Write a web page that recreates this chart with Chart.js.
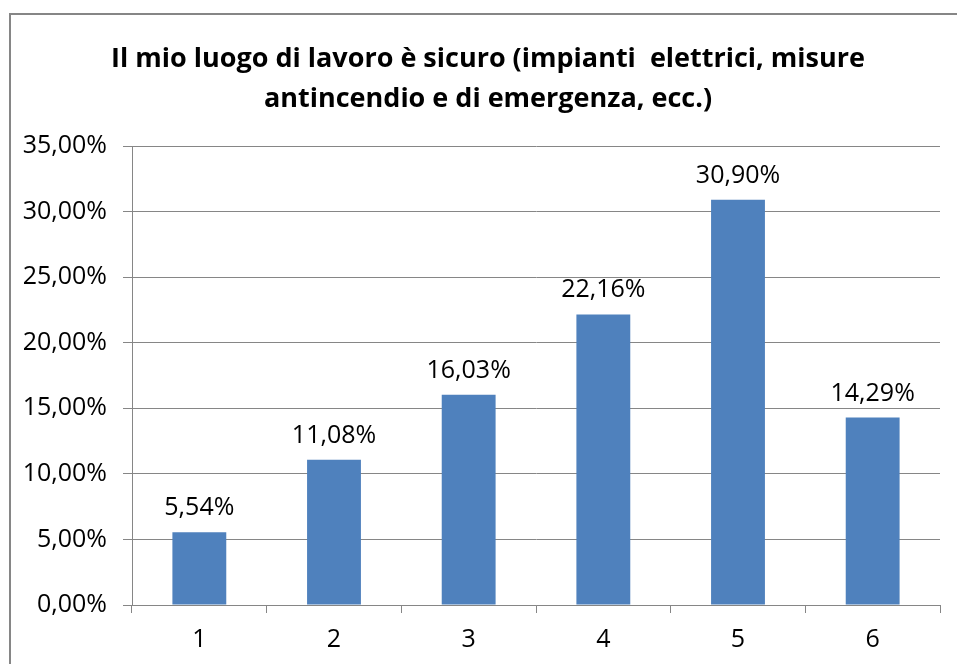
<!DOCTYPE html>
<html>
<head>
<meta charset="utf-8">
<script src="https://cdn.jsdelivr.net/npm/chart.js@4/dist/chart.umd.min.js"></script>
<style>
  html, body { margin: 0; padding: 0; background: #fff; }
  #wrap { width: 957px; height: 664px; position: relative; }
</style>
</head>
<body>
<div id="wrap"><canvas id="chart" width="957" height="664"></canvas></div>
<script>
const categories = ["1", "2", "3", "4", "5", "6"];
const percentValues = [5.54, 11.08, 16.03, 22.16, 30.90, 14.29];
const titleLines = ["Il mio luogo di lavoro è sicuro (impianti  elettrici, misure", "antincendio e di emergenza, ecc.)"];

const FONT = "'Open Sans', 'Noto Sans', sans-serif";

// comma decimal like the original
function fmt(v) {
    return v.toFixed(2).replace('.', ',') + '%';
}

// outer frame + title
const framePlugin = {
    id: 'frame',
    beforeDraw(chart) {
        const ctx = chart.ctx;
        ctx.save();
        ctx.fillStyle = '#fff';
        ctx.fillRect(0, 0, chart.width, chart.height);
        ctx.strokeStyle = '#868686';
        ctx.lineWidth = 2;
        ctx.strokeRect(10, 14, 980, 700);
        ctx.font = 'bold 27px ' + FONT;
        ctx.fillStyle = '#000';
        ctx.textAlign = 'center';
        ctx.textBaseline = 'alphabetic';
        ctx.fillText(titleLines[0], 488, 67);
        ctx.fillText(titleLines[1], 488, 107);
        ctx.restore();
    }
};

// value labels over each bar
const labelPlugin = {
    id: 'barLabels',
    afterDatasetsDraw(chart) {
        const ctx = chart.ctx;
        const meta = chart.getDatasetMeta(0);
        ctx.save();
        ctx.font = '25px ' + FONT;
        ctx.fillStyle = '#000';
        ctx.textAlign = 'center';
        ctx.textBaseline = 'alphabetic';
        meta.data.forEach((bar, i) => {
            ctx.fillText(fmt(percentValues[i]), bar.x, bar.y - 17);
        });
        ctx.restore();
    }
};

const ctx = document.getElementById('chart').getContext('2d');
const chart = new Chart(ctx, {
    type: 'bar',
    data: {
        labels: categories,
        datasets: [{
            data: percentValues,
            backgroundColor: '#4F81BD',
            borderWidth: 0,
            categoryPercentage: 1.0,
            barPercentage: 0.4
        }]
    },
    options: {
        responsive: false,
        animation: false,
        layout: { padding: { left: 0, right: 17, top: 146, bottom: 0 } },
        plugins: {
            legend: { display: false },
            tooltip: { enabled: false },
            title: { display: false }
        },
        scales: {
            x: {
                grid: {
                    drawOnChartArea: false,
                    drawTicks: true,
                    tickLength: 8,
                    color: '#868686'
                },
                border: { color: '#868686', width: 1 },
                ticks: { color: '#000', font: { family: FONT, size: 25 }, padding: 12 },
                afterFit(scale) { scale.height = 59; }
            },
            y: {
                min: 0,
                max: 35,
                grid: { color: '#868686', tickLength: 9 },
                border: { color: '#868686', width: 1 },
                ticks: {
                    stepSize: 5,
                    color: '#000',
                    font: { family: FONT, size: 25 },
                    padding: 16,
                    callback: (v) => fmt(v)
                },
                afterFit(scale) { scale.width = 132; }
            }
        }
    },
    plugins: [framePlugin, labelPlugin]
});
</script>
</body>
</html>
